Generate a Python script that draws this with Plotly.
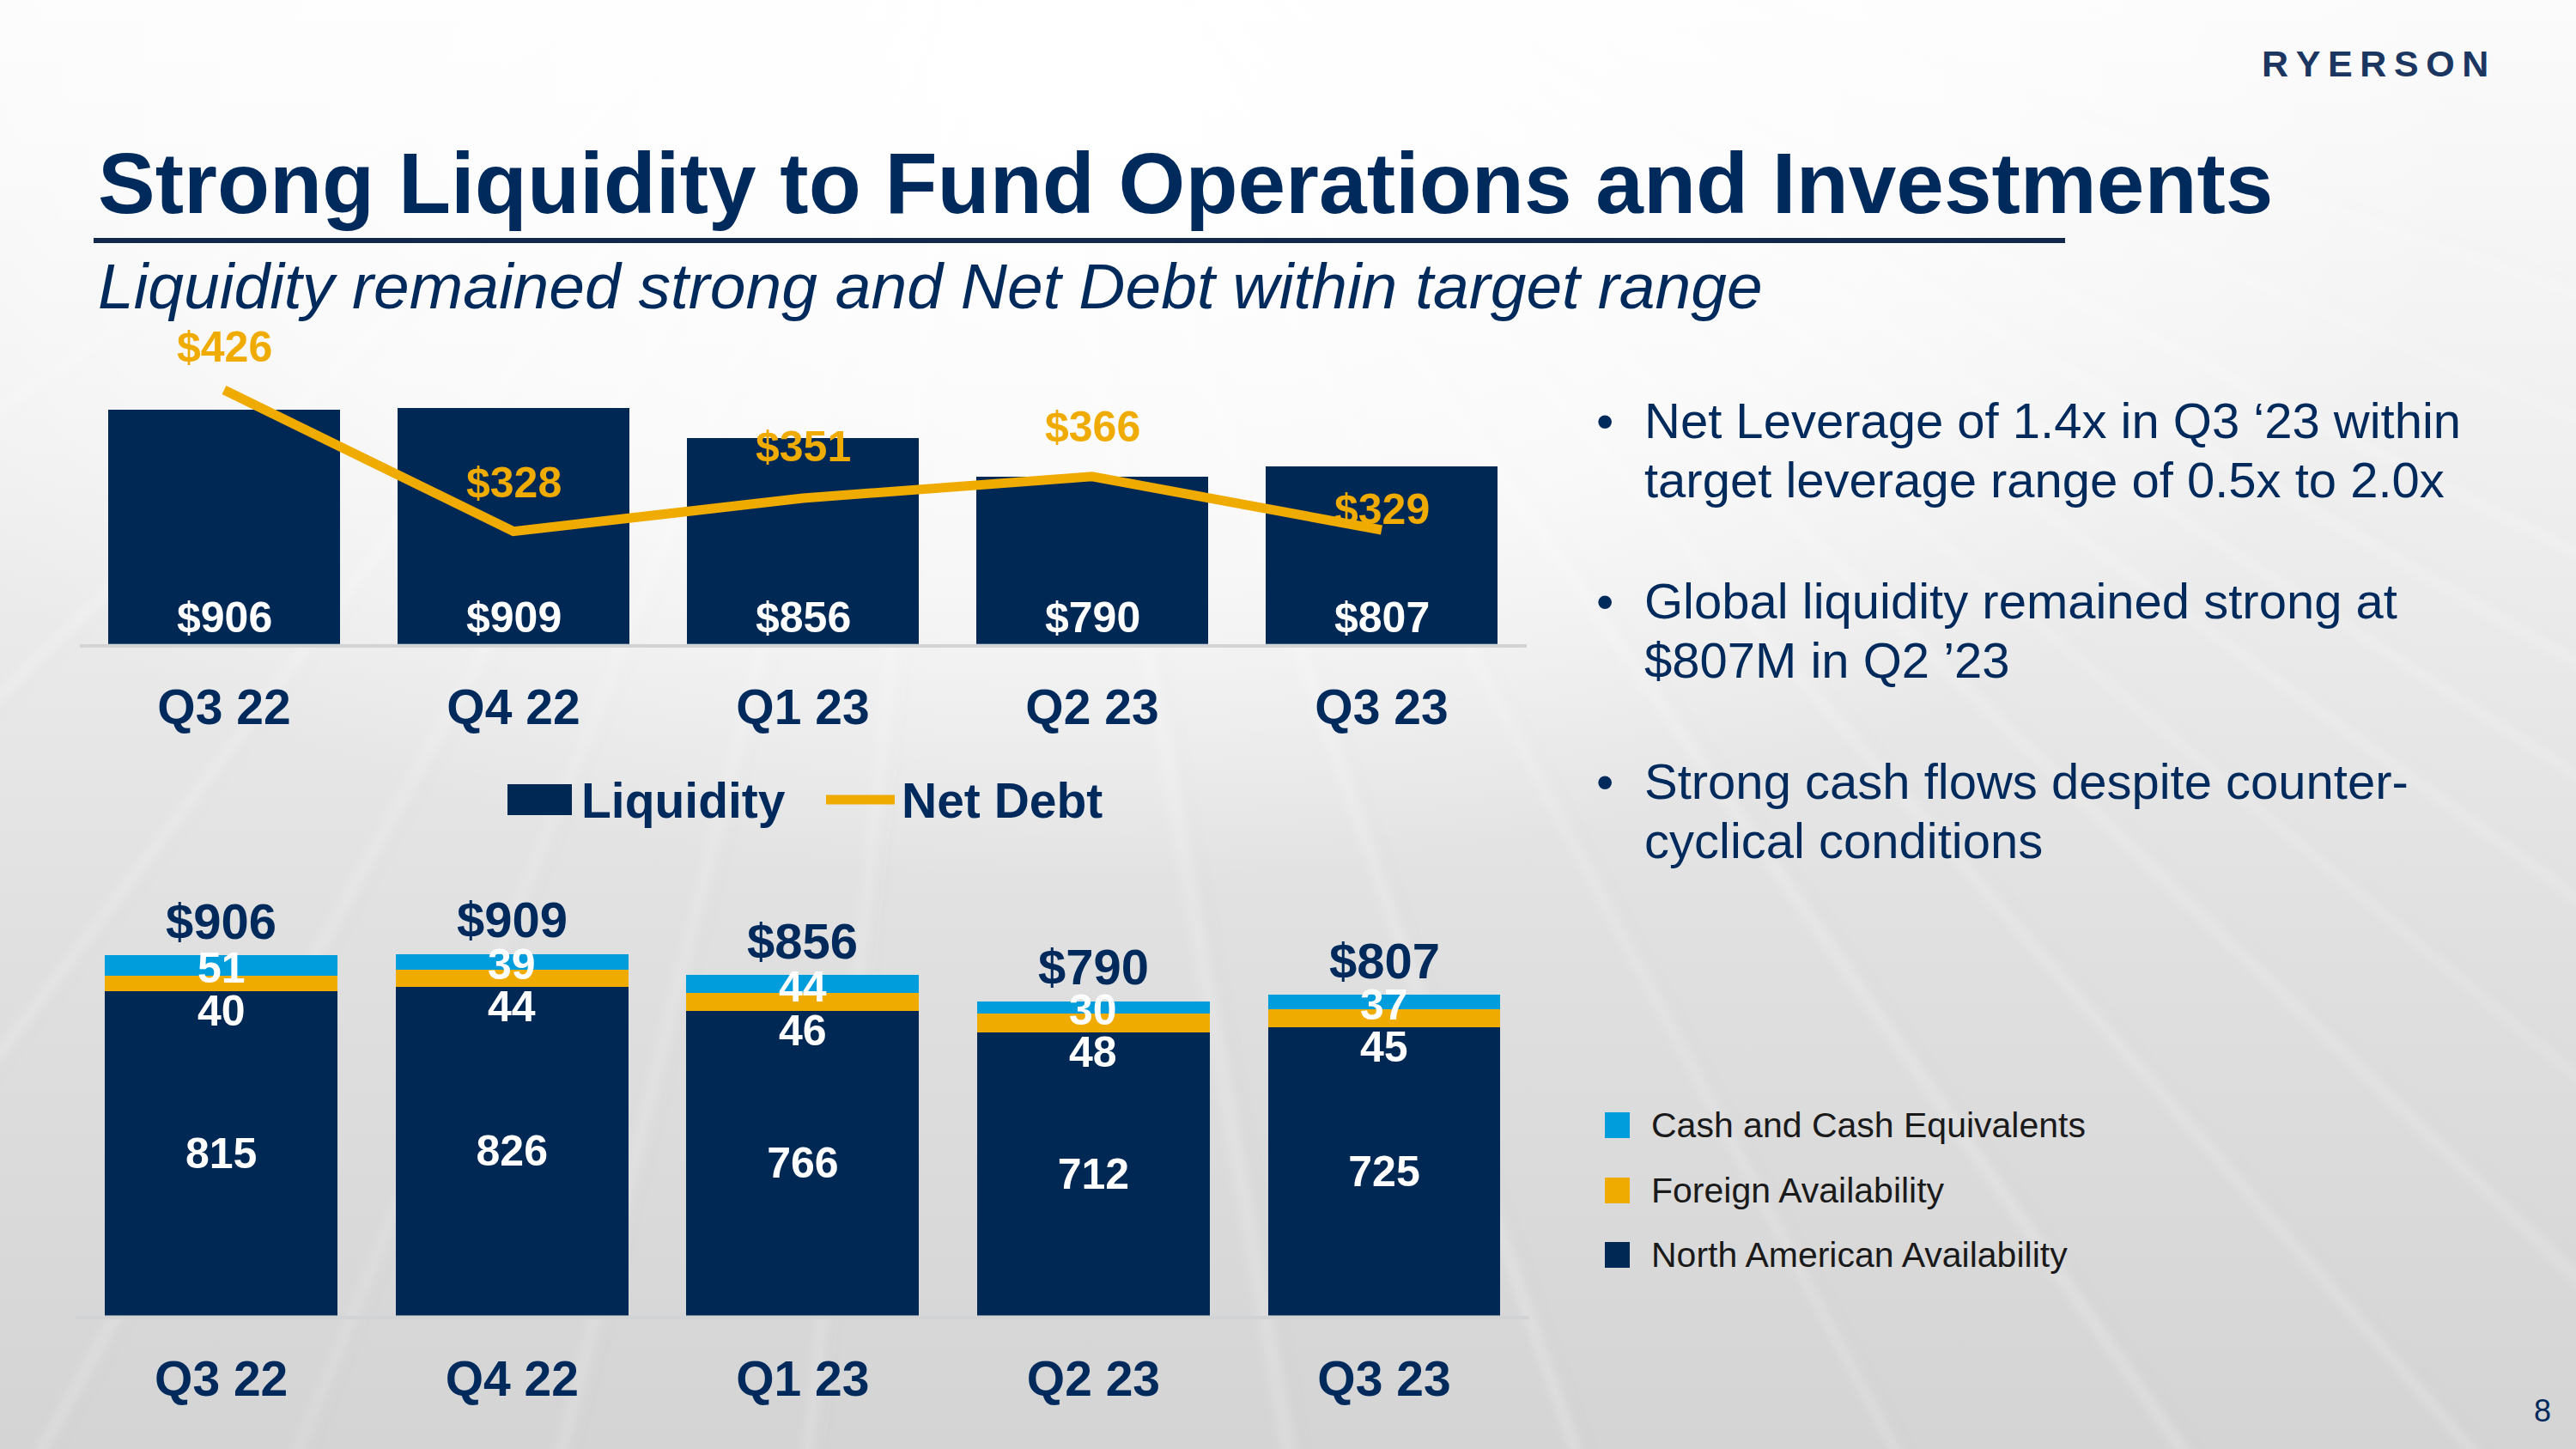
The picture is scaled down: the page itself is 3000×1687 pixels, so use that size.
import base64
import math
import plotly.graph_objects as go

# ---------------- data ----------------
categories = ["Q3 22", "Q4 22", "Q1 23", "Q2 23", "Q3 23"]
liquidity = [906, 909, 856, 790, 807]
net_debt = [426, 328, 351, 366, 329]
north_american = [815, 826, 766, 712, 725]
foreign = [40, 44, 46, 48, 45]
cash = [51, 39, 44, 30, 37]

bullet_lines = [
    ["Net Leverage of 1.4x in Q3 \u201823 within", "target leverage range of 0.5x to 2.0x"],
    ["Global liquidity remained strong at", "$807M in Q2 \u201923"],
    ["Strong cash flows despite counter-", "cyclical conditions"],
]
legend_names = ["Cash and Cash Equivalents", "Foreign Availability", "North American Availability"]

# ---------------- style ----------------
W, H = 3000, 1687
FONT = "Liberation Sans, Arial, sans-serif"
NAVY = "#002855"
TEXT_NAVY = "#002a5c"
GOLD = "#F0AB00"
CYAN = "#009DDC"
AXIS = "#d2d3d5"


def px(x):
    return x / W


def py(y):
    return 1 - y / H


# ---------------- background (decorative svg) ----------------
vp = (1150, -300)
angles = [14, 19, 23, 27, 30, 33, 36, 40, 44, 49, 55, 62, 71, 80, 96, 104, 112, 119, 127, 136, 146]
lines_svg = []
for i, a in enumerate(angles):
    r = math.radians(a)
    x2 = vp[0] + 6000 * math.cos(r)
    y2 = vp[1] + 6000 * math.sin(r)
    w = [6, 12, 4, 9, 16, 5, 8, 3, 11][i % 9]
    op = [0.35, 0.22, 0.45, 0.28, 0.18, 0.4, 0.25, 0.5, 0.2][i % 9]
    lines_svg.append(
        f'<line x1="{vp[0]}" y1="{vp[1]}" x2="{x2:.0f}" y2="{y2:.0f}" stroke="#ffffff" '
        f'stroke-width="{w}" stroke-opacity="{op}"/>'
    )
    lines_svg.append(
        f'<line x1="{vp[0]+16}" y1="{vp[1]}" x2="{x2+16:.0f}" y2="{y2:.0f}" stroke="#8a8a8a" '
        f'stroke-width="{max(2, w//3)}" stroke-opacity="0.07"/>'
    )
svg = f'''<svg xmlns="http://www.w3.org/2000/svg" width="{W}" height="{H}" viewBox="0 0 {W} {H}">
<defs>
<linearGradient id="g" x1="0" y1="0" x2="0" y2="1">
<stop offset="0" stop-color="#fbfbfb"/>
<stop offset="0.28" stop-color="#f1f1f1"/>
<stop offset="0.65" stop-color="#e0e0e1"/>
<stop offset="1" stop-color="#d4d4d5"/>
</linearGradient>
<radialGradient id="r" cx="0.42" cy="0.06" r="0.55">
<stop offset="0" stop-color="#ffffff" stop-opacity="1"/>
<stop offset="0.6" stop-color="#ffffff" stop-opacity="0.6"/>
<stop offset="1" stop-color="#ffffff" stop-opacity="0"/>
</radialGradient>
<filter id="b" x="-10%" y="-10%" width="120%" height="120%"><feGaussianBlur stdDeviation="6"/></filter>
</defs>
<rect width="{W}" height="{H}" fill="url(#g)"/>
<g filter="url(#b)" fill="none">{''.join(lines_svg)}</g>
<rect width="{W}" height="{H}" fill="url(#r)"/>
</svg>'''
bg_uri = "data:image/svg+xml;base64," + base64.b64encode(svg.encode()).decode()

# ---------------- figure ----------------
fig = go.Figure()

# top chart: liquidity bars + net debt line
fig.add_trace(go.Bar(
    x=categories, y=liquidity, xaxis="x", yaxis="y", name="Liquidity",
    marker=dict(color=NAVY, line=dict(width=0)), showlegend=False, hoverinfo="skip",
))
fig.add_trace(go.Scatter(
    x=categories, y=net_debt, xaxis="x", yaxis="y2", name="Net Debt", mode="lines",
    line=dict(color=GOLD, width=11), showlegend=False, hoverinfo="skip",
))

# bottom chart: stacked components
fig.add_trace(go.Bar(
    x=categories, y=north_american, xaxis="x2", yaxis="y3", name=legend_names[2],
    marker=dict(color=NAVY, line=dict(width=0)),
    text=[str(v) for v in north_american], textposition="inside", insidetextanchor="middle",
    textangle=0, textfont=dict(family=FONT, size=50, color="white", weight="bold"),
    showlegend=False, hoverinfo="skip",
))
fig.add_trace(go.Bar(
    x=categories, y=foreign, xaxis="x2", yaxis="y3", name=legend_names[1],
    marker=dict(color=GOLD, line=dict(width=0)), showlegend=False, hoverinfo="skip",
))
fig.add_trace(go.Bar(
    x=categories, y=cash, xaxis="x2", yaxis="y3", name=legend_names[0],
    marker=dict(color=CYAN, line=dict(width=0)), showlegend=False, hoverinfo="skip",
))

annotations = []
shapes = []
bold_white = dict(family=FONT, size=50, color="white", weight="bold")

# top bar value labels (at bar base)
for c, v in zip(categories, liquidity):
    annotations.append(dict(x=c, y=500, xref="x", yref="y", text=f"${v}", showarrow=False,
                            yanchor="middle", yshift=31, font=bold_white))
# net debt labels
nd_shift = [50, 57, 60, 58, 24]
for c, v, s in zip(categories, net_debt, nd_shift):
    annotations.append(dict(x=c, y=v, xref="x", yref="y2", text=f"${v}", showarrow=False,
                            yanchor="middle", yshift=s,
                            font=dict(family=FONT, size=50, color=GOLD, weight="bold")))
# bottom totals & segment labels
for c, na, fa, ca in zip(categories, north_american, foreign, cash):
    total = na + fa + ca
    annotations.append(dict(x=c, y=total, xref="x2", yref="y3", text=f"${total}", showarrow=False,
                            yanchor="middle", yshift=40,
                            font=dict(family=FONT, size=58, color=TEXT_NAVY, weight="bold")))
    annotations.append(dict(x=c, y=na, xref="x2", yref="y3", text=str(fa), showarrow=False,
                            yanchor="middle", yshift=-23, font=bold_white))
    annotations.append(dict(x=c, y=na + fa + ca / 2, xref="x2", yref="y3", text=str(ca),
                            showarrow=False, yanchor="middle", yshift=-3, font=bold_white))

# titles
annotations.append(dict(x=px(112), y=py(213), xref="paper", yref="paper", xanchor="left", yanchor="middle",
                        text="Strong Liquidity to Fund Operations and Investments", showarrow=False,
                        font=dict(family=FONT, size=100, color=TEXT_NAVY, weight="bold")))
annotations.append(dict(x=px(112), y=py(333), xref="paper", yref="paper", xanchor="left", yanchor="middle",
                        text="Liquidity remained strong and Net Debt within target range", showarrow=False,
                        font=dict(family=FONT, size=75, color=TEXT_NAVY, style="italic")))
shapes.append(dict(type="line", xref="paper", yref="paper", x0=px(109), x1=px(2405), y0=py(280), y1=py(280),
                   line=dict(color="#14284b", width=6)))
# logo text
annotations.append(dict(x=px(2632), y=py(74), xref="paper", yref="paper", xanchor="left", yanchor="middle",
                        text="\u2009".join("RYERSON"), showarrow=False,
                        font=dict(family=FONT, size=43, color="#1b3660", weight="bold")))

# top legend (manual)
shapes.append(dict(type="rect", xref="paper", yref="paper", x0=px(591), x1=px(666), y0=py(949), y1=py(913),
                   fillcolor=NAVY, line=dict(width=0)))
shapes.append(dict(type="line", xref="paper", yref="paper", x0=px(962), x1=px(1042), y0=py(931), y1=py(931),
                   line=dict(color=GOLD, width=11)))
annotations.append(dict(x=px(675), y=py(932), xref="paper", yref="paper", xanchor="left", yanchor="middle",
                        text="Liquidity", showarrow=False,
                        font=dict(family=FONT, size=57, color=TEXT_NAVY, weight="bold")))
annotations.append(dict(x=px(1048), y=py(932), xref="paper", yref="paper", xanchor="left", yanchor="middle",
                        text="Net Debt", showarrow=False,
                        font=dict(family=FONT, size=57, color=TEXT_NAVY, weight="bold")))

# bullets
bullet_y = [[489, 559], [699, 769], [909, 978]]
for lines, ys in zip(bullet_lines, bullet_y):
    annotations.append(dict(x=px(1869), y=py(ys[0]), xref="paper", yref="paper", xanchor="center",
                            yanchor="middle", text="\u2022", showarrow=False,
                            font=dict(family=FONT, size=58, color=TEXT_NAVY)))
    for t, yy in zip(lines, ys):
        annotations.append(dict(x=px(1913), y=py(yy), xref="paper", yref="paper", xanchor="left",
                                yanchor="middle", text=t, showarrow=False,
                                font=dict(family=FONT, size=58, color=TEXT_NAVY)))

# bottom-right legend (manual)
for name, col, yy in zip(legend_names, [CYAN, GOLD, NAVY], [1310, 1386, 1461]):
    shapes.append(dict(type="rect", xref="paper", yref="paper", x0=px(1869), x1=px(1898),
                       y0=py(yy + 15), y1=py(yy - 15), fillcolor=col, line=dict(width=0)))
    annotations.append(dict(x=px(1921), y=py(yy), xref="paper", yref="paper", xanchor="left",
                            yanchor="middle", text=name, showarrow=False,
                            font=dict(family=FONT, size=41, color="#1a1a1a")))

# page number
annotations.append(dict(x=px(2961), y=py(1642), xref="paper", yref="paper", xanchor="center",
                        yanchor="middle", text="8", showarrow=False,
                        font=dict(family=FONT, size=36, color=TEXT_NAVY)))

tickfont = dict(family=FONT, size=57, color=TEXT_NAVY, weight="bold")
fig.update_layout(
    width=W, height=H, autosize=False,
    margin=dict(l=0, r=0, t=0, b=0),
    paper_bgcolor="#ececec", plot_bgcolor="rgba(0,0,0,0)",
    barmode="stack", bargap=0.2,
    showlegend=False,
    xaxis=dict(domain=[px(92.5), px(1777.5)], anchor="y", range=[-0.5, 4.5], showline=True,
               linecolor=AXIS, linewidth=4, ticks="", showgrid=False, zeroline=False,
               tickfont=tickfont, ticklabelstandoff=21, fixedrange=True),
    yaxis=dict(domain=[py(749.7), py(413.7)], range=[500, 1000], visible=False, fixedrange=True),
    yaxis2=dict(overlaying="y", anchor="x", side="right", range=[250, 450], visible=False, fixedrange=True),
    xaxis2=dict(domain=[px(88.4), px(1781.3)], anchor="y3", range=[-0.5, 4.5], showline=True,
                linecolor=AXIS, linewidth=4, ticks="", showgrid=False, zeroline=False,
                tickfont=tickfont, ticklabelstandoff=21, fixedrange=True),
    yaxis3=dict(domain=[py(1531.5), py(1068.8)], range=[0, 1000], visible=False, fixedrange=True),
    annotations=annotations,
    shapes=shapes,
    images=[dict(source=bg_uri, xref="paper", yref="paper", x=0, y=1, sizex=1, sizey=1,
                 sizing="stretch", layer="below", xanchor="left", yanchor="top")],
)

fig.write_html("out.html", config={"displayModeBar": False},
               post_script="document.body.style.margin='0';document.body.style.overflow='hidden';")
